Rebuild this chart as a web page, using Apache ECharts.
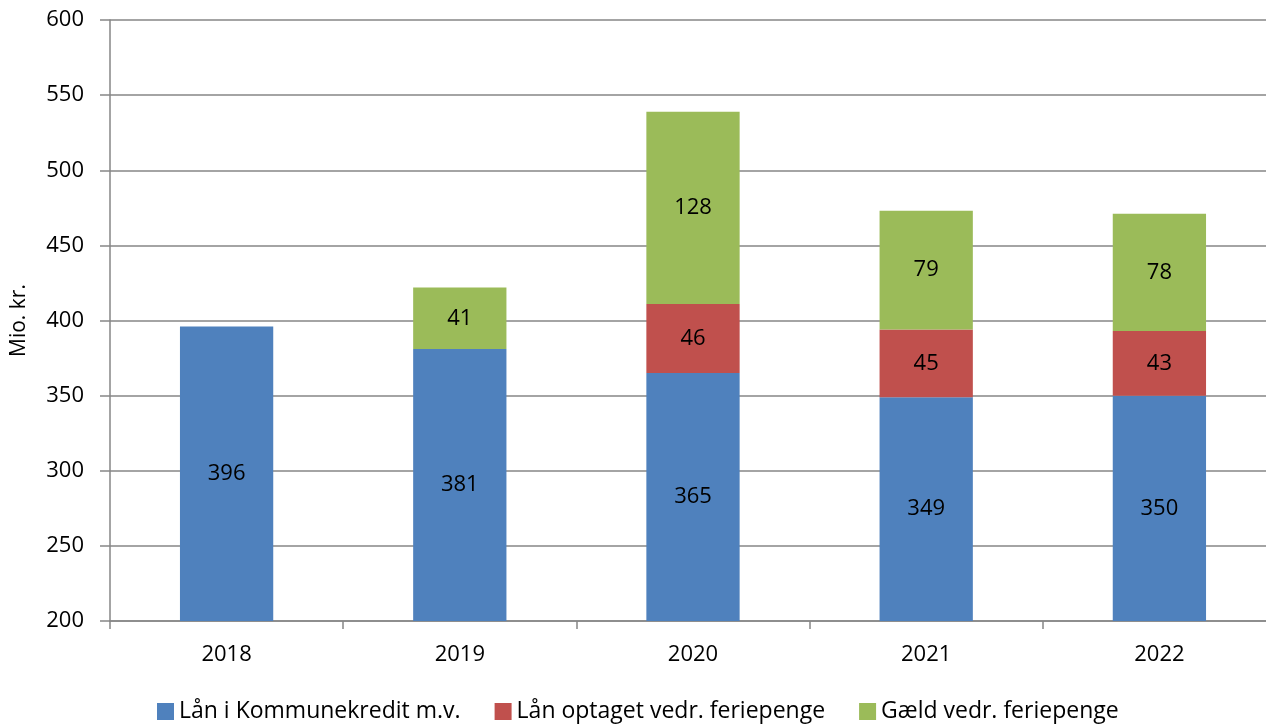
<!DOCTYPE html>
<html>
<head>
<meta charset="utf-8">
<script src="https://cdn.jsdelivr.net/npm/echarts@6/dist/echarts.min.js"></script>
<style>
    html, body { margin: 0; padding: 0; background: #fff; }
    #chart { width: 1266px; height: 724px; }
</style>
</head>
<body>
<div id="chart"></div>
<script>
const years = ['2018', '2019', '2020', '2021', '2022']
// Lån i Kommunekredit m.v.
const laanKommunekredit = [396, 381, 365, 349, 350]
// Lån optaget vedr. feriepenge
const laanFeriepenge = [null, null, 46, 45, 43]
// Gæld vedr. feriepenge
const gaeldFeriepenge = [null, 41, 128, 79, 78]

const font = '"Open Sans", "Noto Sans", sans-serif'

const chart = echarts.init(document.getElementById('chart'))

const barLabel = {
    show: true,
    position: 'inside',
    color: '#000',
    fontSize: 22,
    fontFamily: font,
}

chart.setOption({
    animation: false,
    textStyle: { fontFamily: font },
    // plot area runs a bit past the right edge in the original
    grid: { left: 110, width: 1166, top: 20, bottom: 103, outerBoundsMode: 'none' },
    legend: {
        bottom: -4,
        left: 152,
        itemWidth: 17,
        itemHeight: 17,
        itemGap: 34,
        icon: 'rect',
        textStyle: { fontSize: 23, color: '#000', fontFamily: font },
        data: ['Lån i Kommunekredit m.v.', 'Lån optaget vedr. feriepenge', 'Gæld vedr. feriepenge'],
    },
    xAxis: {
        type: 'category',
        data: years,
        axisLine: { lineStyle: { color: '#868686', width: 1.5 } },
        axisTick: { show: true, length: 8, lineStyle: { color: '#868686', width: 1.5 } },
        axisLabel: { fontSize: 22, color: '#000', margin: 23 },
    },
    yAxis: {
        type: 'value',
        min: 200,
        max: 600,
        interval: 50,
        name: 'Mio. kr.',
        nameLocation: 'middle',
        nameGap: 80,
        nameTextStyle: { fontSize: 21, color: '#000' },
        axisLine: { show: true, lineStyle: { color: '#868686', width: 1.5 } },
        axisTick: { show: true, length: 10, lineStyle: { color: '#868686', width: 1.5 } },
        axisLabel: { fontSize: 22, color: '#000', margin: 26 },
        splitLine: { lineStyle: { color: '#868686', width: 1.5 } },
    },
    series: [
        {
            name: 'Lån i Kommunekredit m.v.',
            type: 'bar',
            stack: 'total',
            barWidth: '40%',
            itemStyle: { color: '#4f81bd' },
            label: barLabel,
            data: laanKommunekredit,
        },
        {
            name: 'Lån optaget vedr. feriepenge',
            type: 'bar',
            stack: 'total',
            itemStyle: { color: '#c0504d' },
            label: barLabel,
            data: laanFeriepenge,
        },
        {
            name: 'Gæld vedr. feriepenge',
            type: 'bar',
            stack: 'total',
            itemStyle: { color: '#9bbb59' },
            label: barLabel,
            data: gaeldFeriepenge,
        },
    ],
})
</script>
</body>
</html>
